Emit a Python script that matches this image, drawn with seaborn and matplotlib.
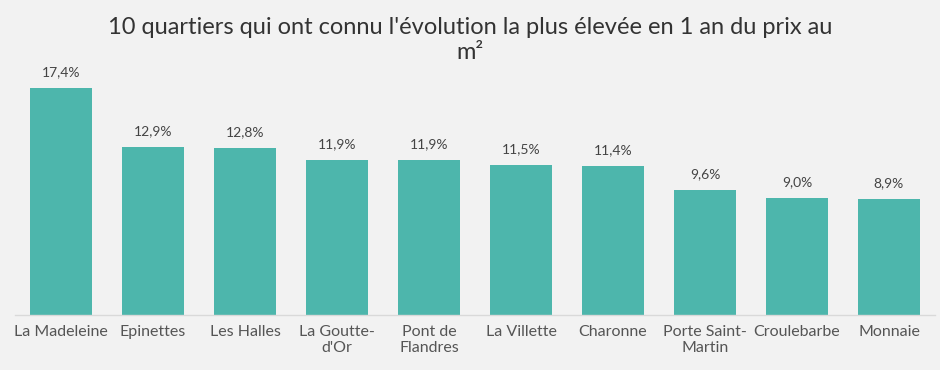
import matplotlib
matplotlib.use("Agg")
import matplotlib.pyplot as plt
import seaborn as sns
import pandas as pd

quartiers = ["La Madeleine", "Epinettes", "Les Halles", "La Goutte-\nd'Or", "Pont de\nFlandres",
             "La Villette", "Charonne", "Porte Saint-\nMartin", "Croulebarbe", "Monnaie"]
evolution = [17.4, 12.9, 12.8, 11.9, 11.9, 11.5, 11.4, 9.6, 9.0, 8.9]
title = "10 quartiers qui ont connu l'évolution la plus élevée en 1 an du prix au\nm²"

df = pd.DataFrame({"quartier": quartiers, "evolution": evolution})

sns.set_theme(style="white")
plt.rcParams["font.family"] = ["Lato", "DejaVu Sans"]

fig = plt.figure(figsize=(9.4, 3.7), dpi=100, facecolor="#F2F2F2")
ax = fig.add_axes([15/940, 55/370, 920/940, (315-54)/370])
ax.set_facecolor("#F2F2F2")

sns.barplot(data=df, x="quartier", y="evolution", color="#4DB6AC", saturation=1,
            width=0.67, linewidth=0, ax=ax)
ax.set_xlim(-0.5, 9.5)
ax.set_ylim(0, 20)
labels = [f"{v:.1f}%".replace(".", ",") for v in evolution]
ax.bar_label(ax.containers[0], labels=labels, padding=7, fontsize=10, color="#444444")

for s in ["top", "right", "left"]:
    ax.spines[s].set_visible(False)
ax.spines["bottom"].set_color("#D9D9D9")
ax.spines["bottom"].set_linewidth(1)
ax.set_yticks([])
ax.set_xlabel("")
ax.set_ylabel("")
ax.tick_params(axis="x", length=0, pad=7, labelsize=11.5, labelcolor="#555555")

fig.text(0.5, 0.955, title, ha="center", va="top", fontsize=17, color="#333333",
         linespacing=1.25)

fig.savefig("out.png", dpi=100, facecolor=fig.get_facecolor())
